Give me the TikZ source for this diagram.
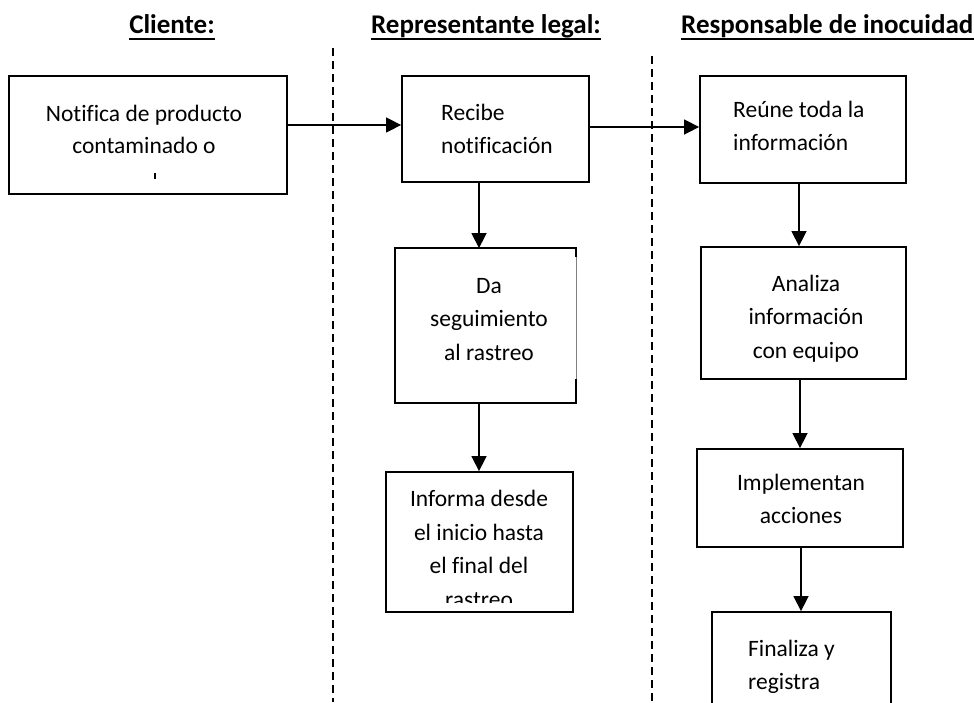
\documentclass[tikz,border=0pt]{standalone}
\usepackage{fontspec}
\setmainfont{Carlito}[Ligatures={NoCommon}]
\usetikzlibrary{arrows.meta,calc}
\newcommand{\nofi}{f\kern0pt i}
\begin{document}
\begin{tikzpicture}[x=1pt,y=-1pt,
  boxst/.style={draw=black, line width=1.8pt, inner sep=0pt},
  txt/.style={anchor=base, inner sep=0pt, font=\fontsize{23.5}{28}\selectfont},
  txtl/.style={txt, anchor=base west},
  ttl/.style={anchor=base, inner sep=0pt, font=\fontsize{27}{32}\selectfont\bfseries},
  uline/.style={line width=1.8pt},
  arr/.style={line width=1.5pt, -{Triangle[length=15pt,width=15pt]}},
  lane/.style={line width=1.8pt, dash pattern=on 8pt off 5pt}]
\clip (0,0) rectangle (974,702);

% lane separators
\coordinate (l1top) at (333,48);
\coordinate (l1bot) at (333,702);
\coordinate (l2top) at (652,56);
\coordinate (l2bot) at (652,702);
\draw[lane] (l1top) -- (l1bot);
\draw[lane] (l2top) -- (l2bot);

% titles
\node[ttl] (tcli) at (172,33.5) {Cliente:};
\node[ttl] (trep) at (486,33.5) {Representante legal:};
\node[ttl, anchor=base west] (tres) at (681,33.5) {Responsable de inocuidad};
\draw[uline] ($(tcli.base west)+(0,5.5)$) -- ($(tcli.base east)+(0,5.5)$);
\draw[uline] ($(trep.base west)+(0,5.5)$) -- ($(trep.base east)+(0,5.5)$);
\draw[uline] ($(tres.base west)+(0,5.5)$) -- ($(tres.base east)+(0,5.5)$);

% boxes
\node[boxst, minimum width=278, minimum height=118] (client) at (148,135) {};
\node[boxst, minimum width=187, minimum height=106] (recibe) at (495.5,129) {};
\node[boxst, minimum width=206, minimum height=107] (reune) at (803,129.5) {};
\node[boxst, draw=none, minimum width=179, minimum height=153] (da) at (485.5,325.5) {};
\node[boxst, minimum width=187, minimum height=140] (informa) at (479.5,542) {};
\node[boxst, minimum width=205, minimum height=132] (analiza) at (803.5,313) {};
\node[boxst, minimum width=206, minimum height=98] (implem) at (800,498) {};
\node[boxst, minimum width=179, minimum height=128] (finaliza) at (801.5,676) {};

% Da seguimiento box with thin right edge in the middle
\draw[line width=1.8pt] ($(da.north east)+(0,9)$) -- (da.north east) -- (da.north west)
  -- (da.south west) -- (da.south east) -- ($(da.south east)+(0,-24)$);
\draw[line width=0.6pt, gray] ($(da.north east)+(0,9)$) -- ($(da.south east)+(0,-24)$);

% texts
\node[txt] (c1) at (144,121) {Noti\nofi ca de producto};
\node[txt] (c2) at (144,153) {contaminado o};
\draw[line width=1.6pt] (155,173) -- (155,179);

\node[txtl] (r1) at (441,120) {Recibe};
\node[txtl] (r2) at (441,153) {noti\nofi cación};

\node[txtl] (u1) at (733,117) {Reúne toda la};
\node[txtl] (u2) at (733,150) {información};

\node[txt] (d1) at (489,293) {Da};
\node[txt] (d2) at (489,326) {seguimiento};
\node[txt] (d3) at (489,360) {al rastreo};

\node[txt] (i1) at (479,506) {Informa desde};
\node[txt] (i2) at (479,540) {el inicio hasta};
\node[txt] (i3) at (479,573) {el \nofi nal del};
\begin{scope}
  \clip (390,585) rectangle (570,602);
  \node[txt] (i4) at (479,607) {rastreo};
\end{scope}

\node[txt] (a1) at (806,291) {Analiza};
\node[txt] (a2) at (806,324) {información};
\node[txt] (a3) at (806,358) {con equipo};

\node[txt] (m1) at (801,490) {Implementan};
\node[txt] (m2) at (801,523) {acciones};

\node[txtl] (f1) at (748,656) {Finaliza y};
\node[txtl] (f2) at (748,689) {registra};

% connectors
\draw[arr] (client.east |- 0,125) -- (recibe.west |- 0,125);
\draw[arr] (recibe.east |- 0,127) -- (reune.west |- 0,127);
\draw[arr] (recibe.south -| 479,0) -- (da.north -| 479,0);
\draw[arr] (da.south -| 479,0) -- (informa.north -| 479,0);
\draw[arr] (reune.south -| 799,0) -- (analiza.north -| 799,0);
\draw[arr] (analiza.south -| 800,0) -- (implem.north -| 800,0);
\draw[arr] (implem.south -| 801,0) -- (finaliza.north -| 801,0);
\end{tikzpicture}
\end{document}
